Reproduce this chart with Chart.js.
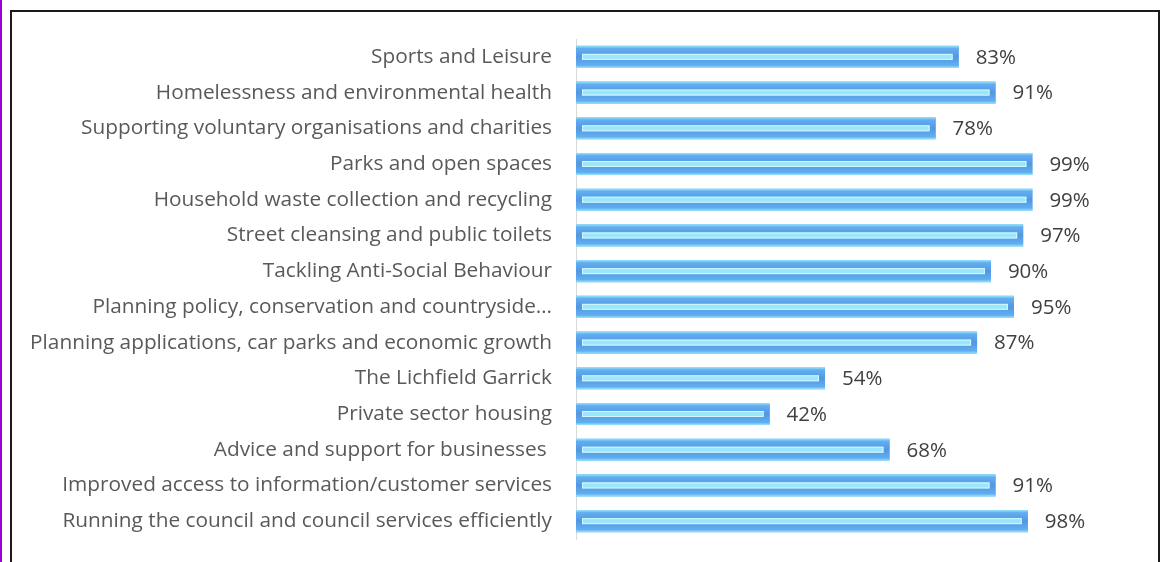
<!DOCTYPE html>
<html>
<head>
<meta charset="utf-8">
<script src="https://cdn.jsdelivr.net/npm/chart.js@4"></script>
<style>
  html, body { margin: 0; padding: 0; background: #fff; }
  #wrap { position: relative; width: 1160px; height: 562px; overflow: hidden; }
  #purple { position: absolute; left: 0; top: 0; width: 2px; height: 562px; background: #9b00d6; }
  #frame { position: absolute; left: 10px; top: 10px; width: 1146px; height: 600px; border: 2px solid #1a1a1a; box-sizing: content-box; }
  #c { position: absolute; left: 0; top: 0; }
</style>
</head>
<body>
<div id="wrap">
  <div id="purple"></div>
  <div id="frame"></div>
  <canvas id="c" width="1160" height="562"></canvas>
</div>
<script>
const services = [
  "Sports and Leisure",
  "Homelessness and environmental health",
  "Supporting voluntary organisations and charities",
  "Parks and open spaces",
  "Household waste collection and recycling",
  "Street cleansing and public toilets",
  "Tackling Anti-Social Behaviour",
  "Planning policy, conservation and countryside…",
  "Planning applications, car parks and economic growth",
  "The Lichfield Garrick",
  "Private sector housing",
  "Advice and support for businesses ",
  "Improved access to information/customer services",
  "Running the council and council services efficiently"
];
const satisfaction = [83, 91, 78, 99, 99, 97, 90, 95, 87, 54, 42, 68, 91, 98];

const labelFont = "'Open Sans'";
const labelSize = 20.8;

// bevelled look: soft blue body with a light strip through the middle
const bevel = {
  id: "bevel",
  afterDatasetsDraw(chart) {
    const ctx = chart.ctx;
    chart.getDatasetMeta(0).data.forEach(bar => {
      const top = bar.y - bar.height / 2;
      const bottom = bar.y + bar.height / 2;
      const g = ctx.createLinearGradient(0, top, 0, bottom);
      g.addColorStop(0, "#9ae8fd");
      g.addColorStop(0.12, "#62aef0");
      g.addColorStop(0.5, "#5397e2");
      g.addColorStop(0.88, "#62aef0");
      g.addColorStop(1, "#9ae8fd");
      ctx.save();
      ctx.fillStyle = g;
      ctx.fillRect(bar.base, top, bar.x - bar.base, bottom - top);

      const x0 = bar.base + 6;
      const x1 = bar.x - 6;
      const y = bar.y;
      ctx.fillStyle = "#9be6fb";
      ctx.fillRect(x0, y - 3, x1 - x0, 6);
      ctx.strokeStyle = "#d2f7fe";
      ctx.lineWidth = 1;
      ctx.strokeRect(x0 + 0.5, y - 2.5, x1 - x0 - 1, 5);
      ctx.restore();
    });
  }
};

// percentages to the right of the bars
const valueLabels = {
  id: "valueLabels",
  afterDatasetsDraw(chart) {
    const ctx = chart.ctx;
    ctx.save();
    ctx.font = "20.5px " + labelFont;
    ctx.fillStyle = "#404040";
    ctx.textBaseline = "middle";
    ctx.textAlign = "left";
    chart.getDatasetMeta(0).data.forEach((bar, i) => {
      ctx.fillText(satisfaction[i] + "%", bar.x + 17, bar.y + 1);
    });
    ctx.restore();
  }
};

new Chart(document.getElementById("c"), {
  type: "bar",
  data: {
    labels: services,
    datasets: [{
      data: satisfaction,
      backgroundColor: "#5aa2e6",
      borderWidth: 0,
      categoryPercentage: 1,
      barPercentage: 0.62
    }]
  },
  plugins: [bevel, valueLabels],
  options: {
    indexAxis: "y",
    responsive: false,
    animation: false,
    layout: { padding: { top: 39, bottom: 23, right: 123, left: 0 } },
    plugins: { legend: { display: false }, tooltip: { enabled: false } },
    scales: {
      x: { display: false, min: 0, max: 100 },
      y: {
        afterFit(scale) {
          scale.width = 576;
          scale.paddingTop = 0;
          scale.paddingBottom = 0;
        },
        grid: { display: false, drawTicks: false },
        border: { display: true, color: "#d9d9d9", width: 1 },
        ticks: {
          padding: 24,
          color: "#595959",
          font: { family: labelFont, size: labelSize }
        }
      }
    }
  }
});
</script>
</body>
</html>
